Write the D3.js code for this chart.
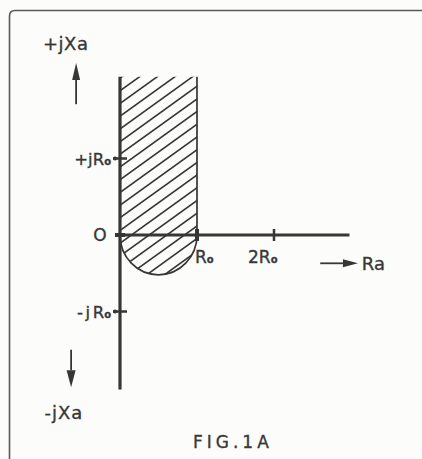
<!DOCTYPE html>
<html><head><meta charset="utf-8">
<script src="https://cdn.jsdelivr.net/npm/d3@7"></script>
<style>
html,body{margin:0;padding:0;background:#fcfcfa;}
svg{display:block;}
text{font-family:"DejaVu Sans",sans-serif;fill:#383838;stroke:#383838;stroke-width:0.35px;}
</style></head><body>
<svg id="c" width="422" height="459"></svg>
<script>
(function(){
// Data (units of R0)
const raTicks = [0, 1, 2];
const raTickLabels = ["O", "R", "2R"];
const xaTicks = [1, -1];
const xaTickLabels = ["+jR", "-jR"];
const raAxisExtent = [0, 2.98];
const xaAxisExtent = [-2.02, 2.07];
const regionRa = [0, 1];          // hatched strip Ra from 0 to R0
const regionXaTop = [2.07];       // strip extends up to top of axis
const semicircle = [0.5, 0.52];   // centre Ra, depth below the Ra axis
const axisNames = ["+jXa", "-jXa", "Ra"];
const caption = ["FIG.1A"];

const W = 422, H = 459;
const x = d3.scaleLinear().domain([0, 1]).range([120, 197]);
const y = d3.scaleLinear().domain([0, 1]).range([235, 158.5]);
const ink = "#363636";

const svg = d3.select("#c");
// frame
svg.append("path")
  .attr("d", `M9.5,${H} L9.5,16 Q9.5,10.5 15,10.5 L${W},10.5`)
  .attr("fill", "none").attr("stroke", "#5a5a5a").attr("stroke-width", 1.6);

// hatched region
const r = (x(regionRa[1]) - x(regionRa[0])) / 2;
const ry = y(0) - y(semicircle[1]);
const regionPath = `M${x(regionRa[0])},${y(regionXaTop[0])} L${x(regionRa[0])},${y(0)} ` +
  `A${r},${ry} 0 0 0 ${x(regionRa[1])},${y(0)} L${x(regionRa[1])},${y(regionXaTop[0])} Z`;
const defs = svg.append("defs");
defs.append("clipPath").attr("id", "reg").append("path").attr("d", regionPath);
const g = svg.append("g").attr("clip-path", "url(#reg)");
const slope = 0.72, gap = 12.7;
const yTop = y(regionXaTop[0]) - 2, yBot = y(0) + ry + 2;
for (let c = yTop - 60; c < yBot + 100; c += gap) {
  g.append("line")
    .attr("x1", x(0) - 5).attr("y1", c + 5 * slope)
    .attr("x2", x(1) + 5).attr("y2", c - (x(1) - x(0) + 5) * slope)
    .attr("stroke", ink).attr("stroke-width", 1.6);
}
// outline: right boundary + semicircle
svg.append("path")
  .attr("d", `M${x(regionRa[1])},${y(regionXaTop[0])} L${x(regionRa[1])},${y(0)} A${r},${ry} 0 0 1 ${x(regionRa[0])},${y(0)}`)
  .attr("fill", "none").attr("stroke", ink).attr("stroke-width", 1.7);

// axes
svg.append("line").attr("x1", x(0)).attr("x2", x(0))
  .attr("y1", y(xaAxisExtent[1])).attr("y2", y(xaAxisExtent[0]))
  .attr("stroke", ink).attr("stroke-width", 3.2);
svg.append("line").attr("x1", x(raAxisExtent[0])).attr("x2", x(raAxisExtent[1]))
  .attr("y1", y(0)).attr("y2", y(0))
  .attr("stroke", ink).attr("stroke-width", 3);

// Ra ticks
raTicks.forEach((t, i) => {
  if (t > 0) {
    svg.append("line").attr("x1", x(t)).attr("x2", x(t))
      .attr("y1", y(0) - 6).attr("y2", y(0) + 6)
      .attr("stroke", ink).attr("stroke-width", t === 1 ? 4 : 2.5);
  } else {
    svg.append("line").attr("x1", x(t) - 5).attr("x2", x(t) + 5)
      .attr("y1", y(0)).attr("y2", y(0)).attr("stroke", ink).attr("stroke-width", 4);
  }
  const lab = svg.append("text");
  if (t === 0) {
    lab.attr("x", x(t) - 20).attr("y", y(0) + 6).attr("text-anchor", "middle")
      .attr("font-size", 17).text(raTickLabels[i]);
  } else {
    lab.attr("x", x(t) + (t === 1 ? -2 : -26)).attr("y", y(0) + 28).attr("font-size", 17)
      .text(raTickLabels[i]);
    lab.append("tspan").attr("font-size", 10).attr("font-weight", "bold").text("o");
  }
});
// Xa ticks
xaTicks.forEach((t, i) => {
  svg.append("line").attr("x1", x(0) - 7).attr("x2", x(0) + 7)
    .attr("y1", y(t)).attr("y2", y(t)).attr("stroke", ink).attr("stroke-width", 2.5);
  svg.append("circle").attr("cx", x(0) - 5).attr("cy", y(t)).attr("r", 2).attr("fill", ink);
  const s = xaTickLabels[i];
  const lab = svg.append("text").attr("x", x(0) - 9).attr("y", y(t) + 6)
    .attr("text-anchor", "end").attr("font-size", 16.5);
  lab.append("tspan").attr("letter-spacing", t < 0 ? 2.5 : 0).text(s.slice(0, -1));
  lab.append("tspan").text(s.slice(-1));
  lab.append("tspan").attr("font-size", 10).attr("font-weight", "bold").text("o");
});

// arrows
function arrow(x1, y1, x2, y2, len, wid) {
  const a = Math.atan2(y2 - y1, x2 - x1);
  const bx = x2 - len * Math.cos(a), by = y2 - len * Math.sin(a);
  svg.append("line").attr("x1", x1).attr("y1", y1).attr("x2", bx).attr("y2", by)
    .attr("stroke", ink).attr("stroke-width", 1.8);
  const px = -Math.sin(a) * wid / 2, py = Math.cos(a) * wid / 2;
  svg.append("path").attr("d", `M${x2},${y2} L${bx + px},${by + py} L${bx - px},${by - py} Z`)
    .attr("fill", ink);
}
arrow(x(-0.57), y(1.71), x(-0.57), y(2.25), 17, 8);
arrow(x(-0.635), y(-1.5), x(-0.635), y(-1.99), 17, 9);
arrow(x(2.6), y(-0.37), x(3.09), y(-0.37), 15, 8);

// axis names
svg.append("text").attr("x", x(-1.0)).attr("y", y(2.51) + 7).attr("font-size", 18)
  .attr("letter-spacing", 0.5).text(axisNames[0]);
svg.append("text").attr("x", x(-0.98)).attr("y", y(-2.31) + 7).attr("font-size", 18)
  .attr("letter-spacing", 1).text(axisNames[1]);
svg.append("text").attr("x", x(3.14)).attr("y", y(-0.37) + 7).attr("font-size", 18)
  .text(axisNames[2]);

// caption
svg.append("text").attr("x", 193).attr("y", 448).attr("font-size", 17)
  .attr("letter-spacing", 4).attr("fill", "#4a4a4a").attr("stroke", "#4a4a4a")
  .attr("stroke-width", 0.2).text(caption[0]);
})();
</script>
</body></html>
